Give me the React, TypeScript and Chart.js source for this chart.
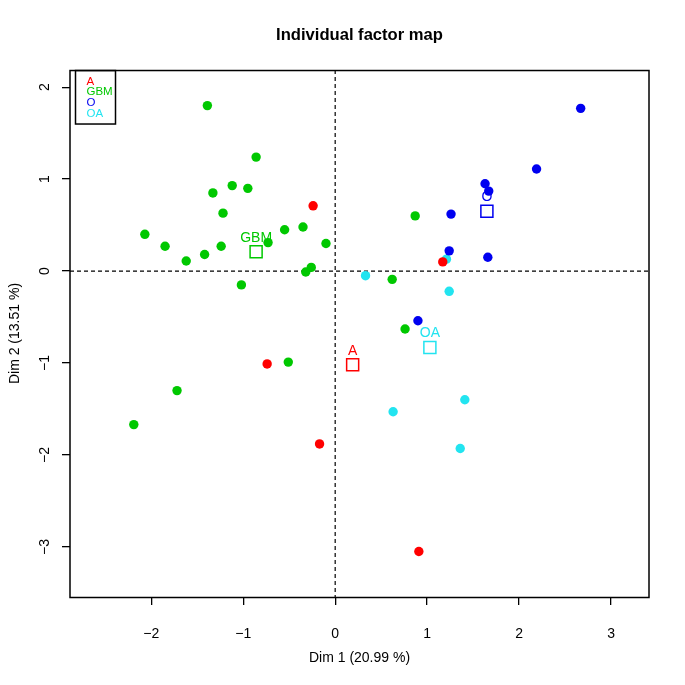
import React, { useEffect, useRef } from 'react';
import { Chart, registerables } from 'chart.js';

Chart.register(...registerables);

const FONT = "'Liberation Sans', Arial, Helvetica, sans-serif";

const chartTitle = 'Individual factor map';
const xTitle = 'Dim 1 (20.99 %)';
const yTitle = 'Dim 2 (13.51 %)';

const groupNames = ['A', 'GBM', 'O', 'OA'];
const groupColors = ['#FF0000', '#00C800', '#0000F0', '#22E4F0'];

const xTicks = [-2, -1, 0, 1, 2, 3];
const yTicks = [-3, -2, -1, 0, 1, 2];

// group A (red)
const aX = [-0.24, 1.17, -0.74, -0.17, 0.91];
const aY = [0.71, 0.10, -1.01, -1.88, -3.05];

// group GBM (green)
const gbmX = [-1.39, -0.86, -1.12, -0.95, -1.33, -1.22, -2.07, -1.85, -1.62, -1.42, -1.24, -0.73,
  -0.55, -0.35, -0.10, -0.26, -0.32, -1.02, 0.87, 0.62, 0.76, -0.51, -1.72, -2.19];
const gbmY = [1.80, 1.24, 0.93, 0.90, 0.85, 0.63, 0.40, 0.27, 0.11, 0.18, 0.27, 0.31,
  0.45, 0.48, 0.30, 0.04, -0.01, -0.15, 0.60, -0.09, -0.63, -0.99, -1.30, -1.67];

// group O (blue)
const oX = [2.67, 2.19, 1.63, 1.67, 1.26, 1.24, 1.66, 0.90];
const oY = [1.77, 1.11, 0.95, 0.87, 0.62, 0.22, 0.15, -0.54];

// group OA (cyan)
const oaX = [1.21, 0.33, 1.24, 1.41, 0.63, 1.36];
const oaY = [0.13, -0.05, -0.22, -1.40, -1.53, -1.93];

// group centres (squares)
const meanX = [0.19, -0.86, 1.65, 1.03];
const meanY = [-1.02, 0.21, 0.65, -0.83];

const X_MIN = -2.884;
const X_MAX = 3.413;
const Y_MIN = -3.545;
const Y_MAX = 2.187;

const toPts = (xs: number[], ys: number[]) => xs.map((x, i) => ({ x, y: ys[i] }));
const fmt = (v: number) => (v < 0 ? '\u2212' + Math.abs(v) : String(v));

const factorPlugin = {
  id: 'factorMap',
  beforeDatasetsDraw(chart: any) {
    const { ctx, chartArea: ca, scales } = chart;
    const x0 = scales.x.getPixelForValue(0);
    const y0 = scales.y.getPixelForValue(0);
    ctx.save();
    ctx.strokeStyle = '#000';
    ctx.lineWidth = 1.2;
    ctx.setLineDash([4, 3]);
    ctx.beginPath();
    ctx.moveTo(ca.left, y0);
    ctx.lineTo(ca.right, y0);
    ctx.moveTo(x0, ca.top);
    ctx.lineTo(x0, ca.bottom);
    ctx.stroke();
    ctx.restore();
  },
  afterDatasetsDraw(chart: any) {
    const { ctx, chartArea: ca } = chart;
    ctx.save();
    // group centre labels
    const meta = chart.getDatasetMeta(0);
    ctx.font = `14px ${FONT}`;
    ctx.textAlign = 'center';
    ctx.textBaseline = 'middle';
    meta.data.forEach((el: any, i: number) => {
      ctx.fillStyle = groupColors[i];
      ctx.fillText(groupNames[i], el.x, el.y - 14);
    });
    // frame
    ctx.strokeStyle = '#000';
    ctx.lineWidth = 1.5;
    ctx.strokeRect(ca.left, ca.top + 0.5, ca.right - ca.left, ca.bottom - ca.top);
    // legend
    const lx = ca.left + 5.5;
    const ly = ca.top + 0.5;
    ctx.strokeRect(lx, ly, 40, 53.5);
    ctx.font = `11.5px ${FONT}`;
    ctx.textAlign = 'left';
    groupNames.forEach((name, i) => {
      ctx.fillStyle = groupColors[i];
      ctx.fillText(name, lx + 11, ly + 11 + i * 10.8);
    });
    ctx.restore();
  },
};

export default function App() {
  const ref = useRef<HTMLCanvasElement>(null);

  useEffect(() => {
    if (!ref.current) return;
    const pointDs = (label: string, xs: number[], ys: number[], color: string) => ({
      label,
      data: toPts(xs, ys),
      backgroundColor: color,
      borderColor: color,
      borderWidth: 0,
      pointRadius: 4.7,
      pointStyle: 'circle',
    });
    const chart = new Chart(ref.current, {
      type: 'scatter',
      data: {
        datasets: [
          {
            label: 'centres',
            data: toPts(meanX, meanY),
            backgroundColor: 'rgba(0,0,0,0)',
            borderColor: groupColors,
            borderWidth: 1.5,
            pointRadius: 8.5,
            pointStyle: 'rect',
          } as any,
          pointDs('A', aX, aY, groupColors[0]),
          pointDs('GBM', gbmX, gbmY, groupColors[1]),
          pointDs('O', oX, oY, groupColors[2]),
          pointDs('OA', oaX, oaY, groupColors[3]),
        ],
      },
      options: {
        animation: false,
        responsive: false,
        devicePixelRatio: 1,
        events: [],
        layout: { padding: { left: 0, right: 36, top: 0, bottom: 0 } },
        plugins: {
          legend: { display: false },
          tooltip: { enabled: false },
          title: {
            display: true,
            fullSize: false,
            text: chartTitle,
            color: '#000',
            font: { family: FONT, size: 16.6, weight: 'bold', lineHeight: 1.2 },
            padding: { top: 25.5, bottom: 24.6 },
          },
        },
        scales: {
          x: {
            type: 'linear',
            position: 'bottom',
            min: X_MIN,
            max: X_MAX,
            afterBuildTicks: (s: any) => {
              s.ticks = xTicks.map((v) => ({ value: v }));
            },
            afterFit: (s: any) => {
              s.height = 88;
            },
            ticks: {
              includeBounds: false,
              color: '#000',
              font: { family: FONT, size: 14 },
              padding: 21,
              callback: (v: any) => fmt(Number(v)),
            },
            grid: { drawOnChartArea: false, drawTicks: true, tickLength: 8, color: '#000', lineWidth: 1.3 },
            border: { display: false },
            title: {
              display: true,
              text: xTitle,
              color: '#000',
              font: { family: FONT, size: 14 },
              padding: { top: 0, bottom: 18 },
            },
          },
          y: {
            type: 'linear',
            position: 'left',
            min: Y_MIN,
            max: Y_MAX,
            afterBuildTicks: (s: any) => {
              s.ticks = yTicks.map((v) => ({ value: v }));
            },
            afterFit: (s: any) => {
              s.width = 70;
            },
            ticks: {
              includeBounds: false,
              color: '#000',
              font: { family: FONT, size: 14 },
              padding: 9,
              minRotation: 90,
              maxRotation: 90,
              crossAlign: 'center',
              callback: (v: any) => fmt(Number(v)),
            },
            grid: { drawOnChartArea: false, drawTicks: true, tickLength: 8, color: '#000', lineWidth: 1.3 },
            border: { display: false },
            title: {
              display: true,
              text: yTitle,
              color: '#000',
              font: { family: FONT, size: 14 },
              padding: { top: 6.6, bottom: 0 },
            },
          },
        },
      } as any,
      plugins: [factorPlugin],
    });
    return () => chart.destroy();
  }, []);

  return (
    <div style={{ position: 'absolute', left: 0, top: 0, width: 685, height: 685, background: '#fff' }}>
      <canvas ref={ref} width={685} height={685} style={{ display: 'block', width: 685, height: 685 }} />
    </div>
  );
}
